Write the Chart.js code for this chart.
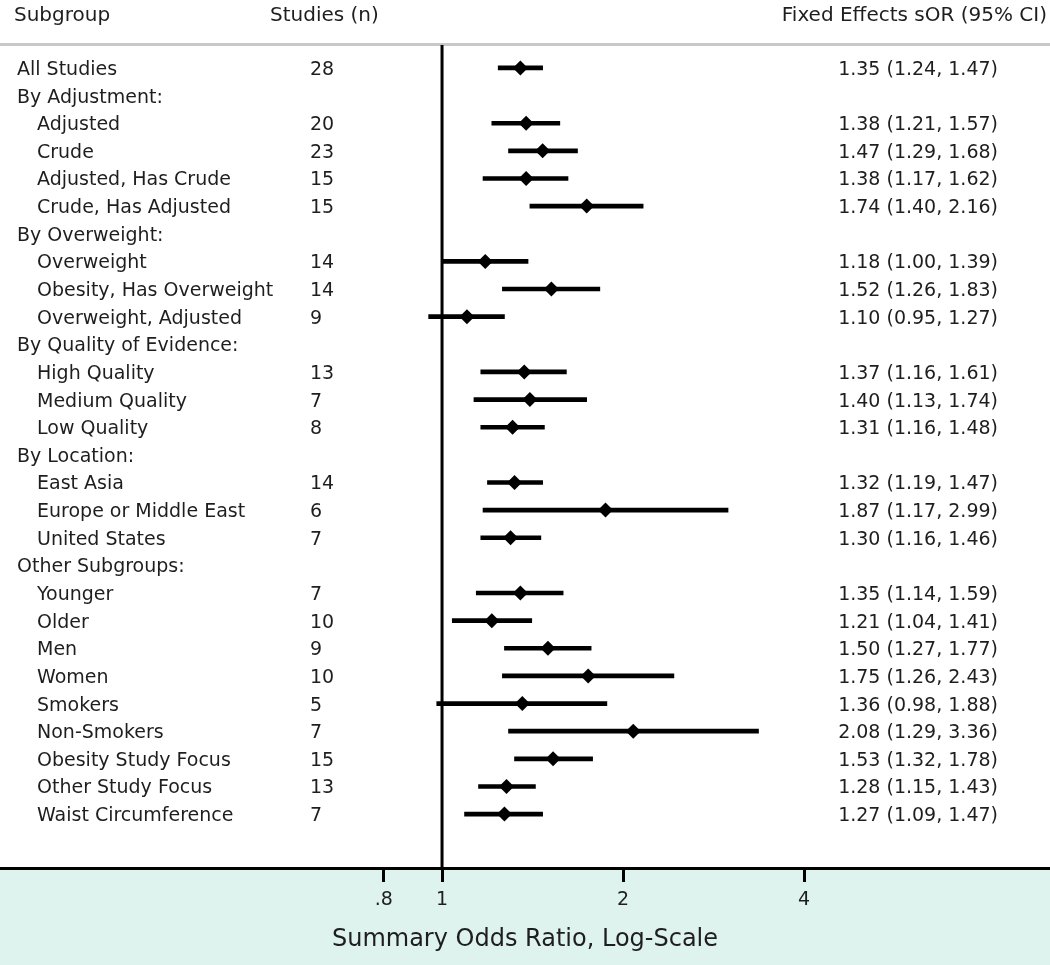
<!DOCTYPE html>
<html lang="en">
<head>
<meta charset="UTF-8">
<title>Forest plot - Summary Odds Ratio</title>
<script src="https://cdn.jsdelivr.net/npm/chart.js"></script>
<style>
  body { margin: 0; background: #fff; }
  #wrap { width: 1050px; height: 965px; position: relative; }
</style>
</head>
<body>
<div id="wrap"><canvas id="forest"></canvas></div>
<script>
  // one entry per row, top to bottom; group headers have null values
  const subgroups = [
    "All Studies", "By Adjustment:", "Adjusted", "Crude", "Adjusted, Has Crude", "Crude, Has Adjusted",
    "By Overweight:", "Overweight", "Obesity, Has Overweight", "Overweight, Adjusted",
    "By Quality of Evidence:", "High Quality", "Medium Quality", "Low Quality",
    "By Location:", "East Asia", "Europe or Middle East", "United States",
    "Other Subgroups:", "Younger", "Older", "Men", "Women", "Smokers", "Non-Smokers",
    "Obesity Study Focus", "Other Study Focus", "Waist Circumference"
  ];
  const indented = [0,0,1,1,1,1, 0,1,1,1, 0,1,1,1, 0,1,1,1, 0,1,1,1,1,1,1,1,1,1];
  const studies = [28,null,20,23,15,15, null,14,14,9, null,13,7,8, null,14,6,7, null,7,10,9,10,5,7,15,13,7];
  const sOR   = [1.35,null,1.38,1.47,1.38,1.74, null,1.18,1.52,1.10, null,1.37,1.40,1.31, null,1.32,1.87,1.30, null,1.35,1.21,1.50,1.75,1.36,2.08,1.53,1.28,1.27];
  const ciLow = [1.24,null,1.21,1.29,1.17,1.40, null,1.00,1.26,0.95, null,1.16,1.13,1.16, null,1.19,1.17,1.16, null,1.14,1.04,1.27,1.26,0.98,1.29,1.32,1.15,1.09];
  const ciHigh= [1.47,null,1.57,1.68,1.62,2.16, null,1.39,1.83,1.27, null,1.61,1.74,1.48, null,1.47,2.99,1.46, null,1.59,1.41,1.77,2.43,1.88,3.36,1.78,1.43,1.47];
  const xTicks = [0.8, 1, 2, 4];
  const xTickLabels = [".8", "1", "2", "4"];

  const Y_MIN = -0.83, Y_MAX = 28.95;
  const FONT = '"DejaVu Sans", sans-serif';

  const ciData = [], pointData = [];
  sOR.forEach((v, i) => {
    if (v === null) return;
    ciData.push({ y: i, x: [ciLow[i], ciHigh[i]] });
    pointData.push({ x: v, y: i });
  });

  const fmt = v => v.toFixed(2);

  const decor = {
    id: "decor",
    beforeDraw(chart) {
      const { ctx, chartArea, width, height } = chart;
      ctx.save();
      ctx.fillStyle = "#fff";
      ctx.fillRect(0, 0, width, height);
      ctx.fillStyle = "#def2ee";
      ctx.fillRect(0, chartArea.bottom, width, height - chartArea.bottom);
      ctx.fillStyle = "#c8c8c8";
      ctx.fillRect(0, chartArea.top - 2, width, 3);
      ctx.restore();
    },
    afterDatasetsDraw(chart) {
      const { ctx } = chart;
      const y = chart.scales.y;
      ctx.save();
      ctx.fillStyle = "#1e1e1e";
      ctx.textBaseline = "middle";
      ctx.font = "20px " + FONT;
      ctx.textAlign = "left";
      ctx.fillText("Subgroup", 14, 16);
      ctx.fillText("Studies (n)", 270, 16);
      ctx.textAlign = "right";
      ctx.fillText("Fixed Effects sOR (95% CI)", 1047, 16);
      ctx.font = "19px " + FONT;
      subgroups.forEach((name, i) => {
        const py = y.getPixelForValue(i) + 2;
        ctx.textAlign = "left";
        ctx.fillText(name, indented[i] ? 37 : 17, py);
        if (studies[i] !== null) ctx.fillText(String(studies[i]), 310, py);
        if (sOR[i] !== null) {
          ctx.textAlign = "right";
          ctx.fillText(fmt(sOR[i]) + " (" + fmt(ciLow[i]) + ", " + fmt(ciHigh[i]) + ")", 998, py);
        }
      });
      ctx.restore();
    }
  };

  new Chart(document.getElementById("forest"), {
    data: {
      datasets: [
        {
          type: "scatter",
          data: [{ x: 1, y: Y_MIN }, { x: 1, y: Y_MAX }],
          showLine: true,
          borderColor: "#000",
          borderWidth: 3,
          pointRadius: 0
        },
        {
          type: "bar",
          indexAxis: "y",
          data: ciData,
          backgroundColor: "#000",
          barThickness: 4
        },
        {
          type: "scatter",
          data: pointData,
          pointStyle: "rectRot",
          pointRadius: 7.5,
          backgroundColor: "#000",
          borderColor: "#000",
          borderWidth: 0
        }
      ]
    },
    options: {
      responsive: true,
      maintainAspectRatio: false,
      animation: false,
      layout: { autoPadding: false, padding: { top: 45, left: 0, right: 0, bottom: 0 } },
      plugins: { legend: { display: false }, tooltip: { enabled: false } },
      scales: {
        x: {
          type: "logarithmic",
          min: 0.184,
          max: 10.26,
          offset: false,
          afterFit(scale) { scale.height = 97; },
          afterBuildTicks(scale) { scale.ticks = xTicks.map(v => ({ value: v })); },
          ticks: {
            autoSkip: false,
            maxRotation: 0,
            padding: 7,
            color: "#1e1e1e",
            font: { family: FONT, size: 19 },
            callback(value) {
              const k = xTicks.indexOf(value);
              return k >= 0 ? xTickLabels[k] : "";
            }
          },
          grid: { drawOnChartArea: false, drawTicks: true, tickLength: 14, tickWidth: 3, tickColor: "#000" },
          border: { display: true, color: "#000", width: 3 },
          title: {
            display: true,
            text: "Summary Odds Ratio, Log-Scale",
            color: "#1e1e1e",
            font: { family: FONT, size: 24 },
            padding: { top: 0, bottom: 11 }
          }
        },
        y: {
          type: "linear",
          reverse: true,
          offset: false,
          min: Y_MIN,
          max: Y_MAX,
          display: false
        }
      }
    },
    plugins: [decor]
  });
</script>
</body>
</html>
